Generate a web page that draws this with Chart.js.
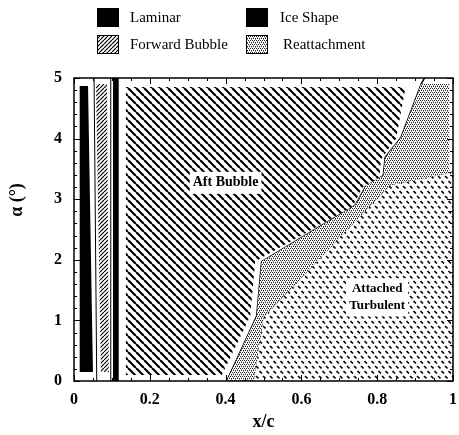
<!DOCTYPE html>
<html>
<head>
<meta charset="utf-8">
<script src="https://cdn.jsdelivr.net/npm/chart.js@4.4.0/dist/chart.umd.min.js"></script>
<style>
  html, body { margin: 0; padding: 0; background: #fff; }
</style>
</head>
<body>
<canvas id="myChart" width="459" height="435"></canvas>
<script>
// Regions of the flow map (x/c vs alpha)
const laminarX = [0.015, 0.050, 0.037, 0.015];
const laminarY = [0.15, 0.15, 4.87, 4.87];
const forwardX = [0.071, 0.092, 0.087, 0.058];
const forwardY = [0.15, 0.15, 4.90, 4.90];
const iceX = [0.103, 0.118, 0.118, 0.103];
const iceY = [0, 0, 5, 5];
const aftX = [0.137, 0.390, 0.465, 0.478, 0.735, 0.762, 0.806, 0.810, 0.850, 0.875, 0.137];
const aftY = [0.10, 0.10, 1.07, 1.97, 2.88, 3.20, 3.36, 3.66, 4.00, 4.85, 4.85];

// edge of the aft bubble (start of reattachment)
const upperX = [0.403, 0.482, 0.495, 0.742, 0.771, 0.816, 0.821, 0.863, 0.916, 0.925];
const upperY = [0, 1.07, 1.97, 2.90, 3.23, 3.39, 3.69, 4.02, 4.90, 5];
// edge of the attached turbulent region
const lowerX = [0.474, 0.500, 0.834, 0.987, 1];
const lowerY = [0, 1.05, 3.23, 3.43, 3.45];

// thin box lines around the laminar / forward bubble strips
const box1X = [0.060, 0.053];
const box1Y = [0, 5];
const box2X = [0.097, 0.097];
const box2Y = [0, 5];

const reattachX = [...upperX.slice(0, 9), 0.99, 0.99, ...lowerX.slice(0, 3).reverse()];
const reattachY = [...upperY.slice(0, 9), 4.90, 3.43, ...lowerY.slice(0, 3).reverse()];
const turbX = [...lowerX, 1];
const turbY = [...lowerY, 0];

const xTicks = [0, 0.2, 0.4, 0.6, 0.8, 1];
const yTicks = [0, 1, 2, 3, 4, 5];

const FONT = 'Liberation Serif';

function pts(xs, ys) {
    return xs.map((x, i) => ({ x: x, y: ys[i] }));
}

function makePattern(w, h, draw) {
    var c = document.createElement('canvas');
    c.width = w; c.height = h;
    var g = c.getContext('2d');
    g.fillStyle = '#fff';
    g.fillRect(0, 0, w, h);
    g.strokeStyle = '#000';
    g.fillStyle = '#000';
    draw(g, w, h);
    return g.createPattern(c, 'repeat');
}

// "\" wide hatch
var aftPattern = makePattern(8, 8, (g, s) => {
    g.lineWidth = 2.2;
    g.beginPath();
    [-s, 0, s].forEach(k => { g.moveTo(k, 0); g.lineTo(k + s, s); });
    g.stroke();
});
// "/" fine hatch
var fwdPattern = makePattern(4, 4, (g, s) => {
    g.lineWidth = 1.2;
    g.beginPath();
    [-s, 0, s].forEach(k => { g.moveTo(k, s); g.lineTo(k + s, 0); });
    g.stroke();
});
// dense stipple
var reattachPattern = makePattern(4, 4, (g) => {
    g.fillStyle = '#222';
    g.fillRect(0, 0, 1, 1);
    g.fillRect(2, 0, 1, 1);
    g.fillRect(1, 2, 1, 1);
    g.fillRect(3, 2, 1, 1);
    g.fillStyle = '#888';
    g.fillRect(1, 1, 1, 1);
    g.fillRect(3, 3, 1, 1);
});
// staggered small dashes
var turbPattern = makePattern(7, 10, (g) => {
    g.lineWidth = 1.6;
    g.beginPath();
    g.moveTo(0.5, 1); g.lineTo(3, 3.5);
    g.moveTo(4, 6); g.lineTo(6.5, 8.5);
    g.stroke();
});

function region(label, xs, ys, fillStyle) {
    return {
        label: label,
        data: pts(xs, ys),
        fill: 'shape',
        backgroundColor: fillStyle,
        borderWidth: 0,
        borderColor: 'rgba(0,0,0,0)',
        pointRadius: 0
    };
}

function edge(label, xs, ys, width) {
    return {
        label: label,
        data: pts(xs, ys),
        fill: false,
        borderColor: '#000',
        borderWidth: width,
        pointRadius: 0
    };
}

const frameAndTicks = {
    id: 'frameAndTicks',
    afterDatasetsDraw(chart) {
        var ctx = chart.ctx, a = chart.chartArea;
        var xs = chart.scales.x, ys = chart.scales.y;
        ctx.save();

        // region labels on white
        var notes = [
            { lines: ['Aft Bubble'], x: 0.40, y: 3.27, size: 14 },
            { lines: ['Attached', 'Turbulent'], x: 0.80, y: 1.38, size: 13 }
        ];
        notes.forEach(n => {
            ctx.font = 'bold ' + n.size + 'px "' + FONT + '"';
            var px = xs.getPixelForValue(n.x), py = ys.getPixelForValue(n.y);
            var lh = n.size + 4;
            var w = Math.max(...n.lines.map(l => ctx.measureText(l).width));
            var h = lh * n.lines.length;
            ctx.fillStyle = '#fff';
            ctx.fillRect(px - w / 2 - 3, py - h / 2 - 2, w + 6, h + 4);
            ctx.fillStyle = '#000';
            ctx.textAlign = 'center';
            ctx.textBaseline = 'middle';
            n.lines.forEach((l, i) => ctx.fillText(l, px, py - h / 2 + lh * (i + 0.5)));
        });

        ctx.strokeStyle = '#000';
        ctx.lineWidth = 1.5;
        ctx.strokeRect(a.left, a.top, a.right - a.left, a.bottom - a.top);

        ctx.lineWidth = 1;
        ctx.beginPath();
        for (var i = 0; i <= 20; i++) {
            var px = Math.round(xs.getPixelForValue(i / 20)) + 0.5;
            var len = i % 4 === 0 ? 6 : 3;
            ctx.moveTo(px, a.bottom); ctx.lineTo(px, a.bottom - len);
            ctx.moveTo(px, a.top); ctx.lineTo(px, a.top + len);
        }
        for (var j = 0; j <= 25; j++) {
            var py = Math.round(ys.getPixelForValue(j / 5)) + 0.5;
            var len2 = j % 5 === 0 ? 6 : 3;
            ctx.moveTo(a.left, py); ctx.lineTo(a.left + len2, py);
            ctx.moveTo(a.right, py); ctx.lineTo(a.right - len2, py);
        }
        ctx.stroke();
        ctx.restore();
    },
    afterDraw(chart) {
        var ctx = chart.ctx;
        ctx.save();
        // y axis title
        ctx.translate(17, 200);
        ctx.rotate(-Math.PI / 2);
        ctx.font = 'bold 18px "' + FONT + '"';
        ctx.fillStyle = '#000';
        ctx.textAlign = 'center';
        ctx.textBaseline = 'middle';
        ctx.fillText('\u03b1 (\u00b0)', 0, 0);
        ctx.restore();

        // two-column legend
        var order = [
            { label: 'Laminar', bx: 97, tx: 130, y: 8 },
            { label: 'Ice Shape', bx: 246, tx: 280, y: 8 },
            { label: 'Forward Bubble', bx: 97, tx: 130, y: 35 },
            { label: 'Reattachment', bx: 246, tx: 283, y: 35 }
        ];
        ctx.save();
        ctx.font = '15px "' + FONT + '"';
        ctx.textBaseline = 'middle';
        ctx.textAlign = 'left';
        order.forEach(o => {
            var ds = chart.data.datasets.find(d => d.label === o.label);
            ctx.fillStyle = ds.backgroundColor;
            ctx.fillRect(o.bx, o.y, 22, 19);
            ctx.strokeStyle = '#000';
            ctx.lineWidth = 1;
            ctx.strokeRect(o.bx + 0.5, o.y + 0.5, 21, 18);
            ctx.fillStyle = '#000';
            ctx.fillText(o.label, o.tx, o.y + 10);
        });
        ctx.restore();
    }
};

var ctx = document.getElementById('myChart');
var myChart = new Chart(ctx, {
    type: 'line',
    data: {
        datasets: [
            region('Aft Bubble', aftX, aftY, aftPattern),
            region('Reattachment', reattachX, reattachY, reattachPattern),
            region('Attached Turbulent', turbX, turbY, turbPattern),
            region('Laminar', laminarX, laminarY, '#000'),
            region('Forward Bubble', forwardX, forwardY, fwdPattern),
            region('Ice Shape', iceX, iceY, '#000'),
            edge('box1', box1X, box1Y, 1),
            edge('box2', box2X, box2Y, 1),
            edge('Reattachment start', upperX, upperY, 1.5),
            edge('Turbulent start', lowerX, lowerY, 1.5)
        ]
    },
    options: {
        responsive: false,
        animation: false,
        devicePixelRatio: 1,
        layout: { padding: { top: 78, right: 6, left: 0, bottom: 0 } },
        plugins: {
            legend: { display: false },
            tooltip: { enabled: false }
        },
        scales: {
            x: {
                type: 'linear',
                min: 0,
                max: 1,
                grid: { display: false, drawTicks: false },
                border: { display: false },
                afterFit: (s) => { s.height = 54; s.paddingLeft = 0; s.paddingRight = 0; },
                afterBuildTicks: (s) => { s.ticks = xTicks.map(v => ({ value: v })); },
                ticks: {
                    padding: 9,
                    color: '#000',
                    callback: (v) => String(v),
                    font: { family: FONT, size: 16, weight: 'bold' }
                },
                title: {
                    display: true,
                    text: 'x/c',
                    color: '#000',
                    padding: { top: 2, bottom: 2 },
                    font: { family: FONT, size: 18, weight: 'bold' }
                }
            },
            y: {
                type: 'linear',
                min: 0,
                max: 5,
                grid: { display: false, drawTicks: false },
                border: { display: false },
                afterFit: (s) => { s.width = 74; },
                afterBuildTicks: (s) => { s.ticks = yTicks.map(v => ({ value: v })); },
                ticks: {
                    padding: 12,
                    color: '#000',
                    callback: (v) => String(v),
                    font: { family: FONT, size: 16, weight: 'bold' }
                }
            }
        }
    },
    plugins: [frameAndTicks]
});
</script>
</body>
</html>
